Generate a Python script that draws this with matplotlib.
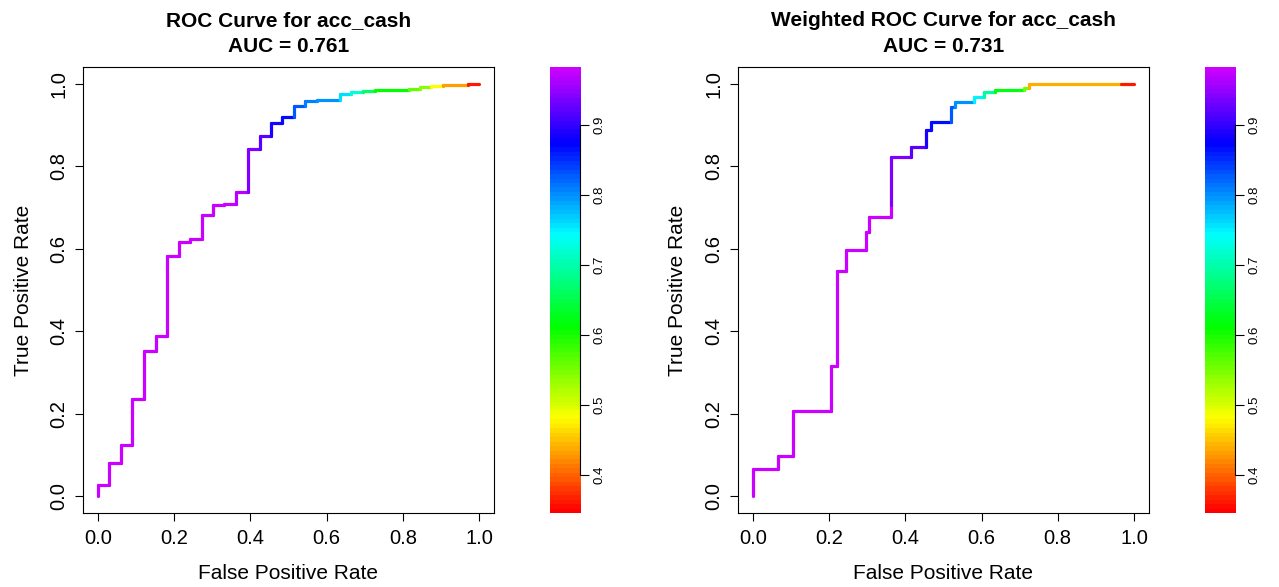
import numpy as np
import matplotlib
matplotlib.use("Agg")
import matplotlib.pyplot as plt
from matplotlib.collections import LineCollection
from matplotlib.colors import ListedColormap, Normalize, hsv_to_rgb

plt.rcParams["font.family"] = ["Liberation Sans", "DejaVu Sans"]

# ROC steps: fpr where the curve rises, tpr level after the rise, score threshold
fpr_raw = [0.000, 0.030, 0.060, 0.090, 0.120, 0.152, 0.181, 0.212, 0.242, 0.272,
           0.303, 0.332, 0.363, 0.393, 0.424, 0.454, 0.483, 0.514, 0.544, 0.575,
           0.634, 0.665, 0.695, 0.726, 0.817, 0.845, 0.875, 0.906, 0.970]
tpr_raw = [0.028, 0.081, 0.123, 0.236, 0.352, 0.389, 0.583, 0.617, 0.623, 0.683,
           0.706, 0.708, 0.738, 0.842, 0.874, 0.905, 0.919, 0.946, 0.959, 0.961,
           0.976, 0.980, 0.983, 0.986, 0.988, 0.992, 0.995, 0.998, 1.000]
thr_raw = [0.98, 0.98, 0.98, 0.98, 0.98, 0.98, 0.98, 0.98, 0.98, 0.98,
           0.98, 0.98, 0.97, 0.94, 0.92, 0.89, 0.87, 0.83, 0.81, 0.80,
           0.76, 0.72, 0.66, 0.61, 0.56, 0.54, 0.48, 0.43, 0.36]

fpr_wt = [0.000, 0.066, 0.104, 0.205, 0.220, 0.245, 0.298, 0.304, 0.363, 0.363,
          0.416, 0.455, 0.466, 0.521, 0.531, 0.581, 0.607, 0.634, 0.712, 0.725,
          0.966]
tpr_wt = [0.065, 0.098, 0.207, 0.315, 0.546, 0.596, 0.641, 0.677, 0.707, 0.822,
          0.848, 0.888, 0.908, 0.945, 0.955, 0.969, 0.981, 0.984, 0.989, 1.000,
          1.000]
thr_wt = [0.98, 0.98, 0.98, 0.98, 0.98, 0.98, 0.98, 0.98, 0.98, 0.94,
          0.92, 0.89, 0.87, 0.83, 0.80, 0.75, 0.69, 0.62, 0.55, 0.437,
          0.36]

titles = ["ROC Curve for acc_cash\nAUC = 0.761",
          "Weighted ROC Curve for acc_cash\nAUC = 0.731"]
score_min, score_max = 0.346, 0.982
cbar_ticks = [0.4, 0.5, 0.6, 0.7, 0.8, 0.9]
axis_ticks = [0.0, 0.2, 0.4, 0.6, 0.8, 1.0]

hues = np.linspace(0, 0.8, 256)
cmap = ListedColormap(hsv_to_rgb(np.column_stack([hues, np.ones(256), np.ones(256)])))
norm = Normalize(score_min, score_max)


def step_segments(fpr, tpr, thr):
    segs, vals = [], []
    prev = 0.0
    for i in range(len(fpr)):
        nxt = fpr[i + 1] if i + 1 < len(fpr) else 1.0
        segs.append([(fpr[i], prev), (fpr[i], tpr[i])])
        segs.append([(fpr[i], tpr[i]), (nxt, tpr[i])])
        vals += [thr[i], thr[i]]
        prev = tpr[i]
    return segs, vals


fig = plt.figure(figsize=(12.79, 5.87), dpi=100)
panels = [
    (0.0647, 0.430, fpr_raw, tpr_raw, thr_raw, titles[0]),
    (0.5768, 0.9421, fpr_wt, tpr_wt, thr_wt, titles[1]),
]
for left, cleft, fpr, tpr, thr, title in panels:
    ax = fig.add_axes([left, 0.1266, 0.3217, 0.7587])
    segs, vals = step_segments(fpr, tpr, thr)
    ax.add_collection(LineCollection(segs, colors=cmap(norm(np.array(vals))),
                                     linewidths=2.3, capstyle="round"))
    ax.set_xlim(-0.04, 1.04)
    ax.set_ylim(-0.04, 1.04)
    ax.set_xticks(axis_ticks)
    ax.set_yticks(axis_ticks)
    ax.set_xticklabels([f"{t:.1f}" for t in axis_ticks])
    ax.set_yticklabels([f"{t:.1f}" for t in axis_ticks], rotation=90, va="center")
    ax.tick_params(length=5.5, width=0.8, labelsize=14.5, pad=5)
    ax.tick_params(axis="x", pad=6)
    for s in ax.spines.values():
        s.set_linewidth(0.8)
    ax.set_xlabel("False Positive Rate", fontsize=15, labelpad=12)
    ax.set_ylabel("True Positive Rate", fontsize=15, labelpad=12)
    ax.set_title(title, fontsize=15, fontweight="bold", pad=11, linespacing=1.45)

    cax = fig.add_axes([cleft, 0.1266, 0.02346, 0.7587])
    levels = np.linspace(score_min, score_max, 100)
    cax.imshow(levels[:, None], aspect="auto", cmap=cmap, norm=norm,
               extent=[0, 1, score_min, score_max], origin="lower",
               interpolation="nearest")
    cax.set_xlim(0, 1)
    cax.set_ylim(score_min, score_max)
    for side in ["left", "top", "bottom"]:
        cax.spines[side].set_visible(False)
    cax.spines["right"].set_bounds(0.4, 0.9)
    cax.spines["right"].set_linewidth(0.8)
    cax.set_xticks([])
    cax.yaxis.tick_right()
    cax.set_yticks(cbar_ticks)
    cax.set_yticklabels([f"{t:.1f}" for t in cbar_ticks], rotation=90, va="center")
    cax.tick_params(axis="y", length=6.5, width=0.8, labelsize=9.5, pad=3)

plt.savefig("out.png", dpi=100)
plt.close()
